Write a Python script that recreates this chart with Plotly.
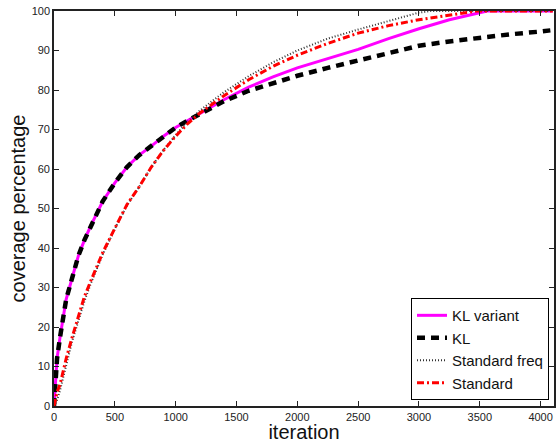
import plotly.graph_objects as go

# ---- data ----
kl_variant_x = [0, 10, 25, 50, 100, 150, 200, 250, 300, 400, 500, 600, 700, 800, 900, 1000,
                1100, 1200, 1300, 1400, 1600, 1800, 2000, 2250, 2500, 2750, 3000, 3250, 3500,
                3560, 4100]
kl_variant_y = [0, 5, 12, 17.5, 27, 32.5, 38, 42, 45.5, 51.8, 56.5, 60.5, 63.5, 65.8, 68.3, 70.5,
                72.3, 74, 75.7, 77.6, 80.7, 83.3, 85.6, 88, 90.3, 93, 95.5, 97.8, 99.6,
                100, 100]

kl_x = [0, 10, 25, 50, 100, 150, 200, 250, 300, 400, 500, 600, 700, 800, 900, 1000,
        1100, 1200, 1300, 1400, 1600, 1800, 2000, 2250, 2500, 2750, 3000, 3250, 3500, 3750,
        4000, 4080]
kl_y = [0, 5, 12, 17.5, 27, 32.5, 38, 42, 45.5, 51.8, 56.5, 60.5, 63.5, 65.8, 68.3, 70.5,
        72.3, 74, 75.6, 77.2, 79.8, 81.8, 83.6, 85.6, 87.5, 89.5, 91.2, 92.3, 93.3, 94.1,
        94.8, 95.1]

std_freq_x = [0, 25, 50, 100, 150, 200, 250, 300, 400, 500, 600, 700, 800, 900, 1000, 1100,
              1200, 1300, 1400, 1600, 1800, 2000, 2250, 2500, 2750, 3000, 3100, 4100]
std_freq_y = [0, 1.5, 4, 10.5, 16.5, 21.5, 26.5, 30.8, 38.3, 44.8, 50.8, 55.5, 60.5, 64.8, 68.6, 72,
              74.8, 77.2, 79.5, 83.5, 87, 90, 93, 95.3, 97.5, 99.6, 100, 100]

std_x = [0, 25, 50, 100, 150, 200, 250, 300, 400, 500, 600, 700, 800, 900, 1000, 1100,
         1200, 1300, 1400, 1600, 1800, 2000, 2250, 2500, 2750, 3000, 3250, 3480, 4100]
std_y = [0, 3.5, 5.5, 12, 17.5, 22.5, 27.7, 31.5, 38.8, 45, 51, 55.5, 60.5, 64.7, 68.3, 71.5,
         74.2, 76.4, 78.6, 82.6, 86, 88.8, 91.8, 94.4, 96.3, 97.8, 99, 100, 100]

x_ticks = [0, 500, 1000, 1500, 2000, 2500, 3000, 3500, 4000]
y_ticks = [0, 10, 20, 30, 40, 50, 60, 70, 80, 90, 100]

fig = go.Figure()
fig.add_trace(go.Scatter(x=kl_variant_x, y=kl_variant_y, mode="lines", name="KL variant",
                         line=dict(color="#ff00ff", width=3)))
fig.add_trace(go.Scatter(x=kl_x, y=kl_y, mode="lines", name="KL",
                         line=dict(color="black", width=4.5, dash="8px,6px")))
fig.add_trace(go.Scatter(x=std_freq_x, y=std_freq_y, mode="lines", name="Standard freq",
                         line=dict(color="#333333", width=2, dash="1px,2px")))
fig.add_trace(go.Scatter(x=std_x, y=std_y, mode="lines", name="Standard",
                         line=dict(color="#ff0000", width=3, dash="7px,3px,2px,3px")))

axis_common = dict(showgrid=False, zeroline=False, showline=True, linecolor="#222222",
                   linewidth=1.6, mirror="allticks", ticks="inside", ticklen=5,
                   tickwidth=1, tickcolor="#222222", automargin=False,
                   tickfont=dict(family="Liberation Sans, Arial", size=11, color="#222222"))

fig.update_layout(
    width=558, height=443,
    margin=dict(l=54, r=4, t=11, b=37),
    paper_bgcolor="white", plot_bgcolor="white",
    font=dict(family="Liberation Sans, Arial", color="#111111"),
    xaxis=dict(range=[0, 4110], tickvals=x_ticks, ticktext=[str(v) for v in x_ticks],
               title=dict(text="iteration", font=dict(size=20), standoff=3),
               **axis_common),
    yaxis=dict(range=[0, 100], tickvals=y_ticks, ticktext=[str(v) for v in y_ticks],
               title=dict(text="coverage percentage", font=dict(size=20), standoff=1),
               **axis_common),
    legend=dict(x=0.99, y=0.015, xanchor="right", yanchor="bottom",
                bgcolor="white", bordercolor="black", borderwidth=1,
                font=dict(family="Liberation Sans, Arial", size=15, color="#111111"),
                tracegroupgap=0, itemwidth=30),
    showlegend=True,
)

fig.write_html("out.html", config={"displayModeBar": False},
               post_script="document.body.style.margin='0';")
